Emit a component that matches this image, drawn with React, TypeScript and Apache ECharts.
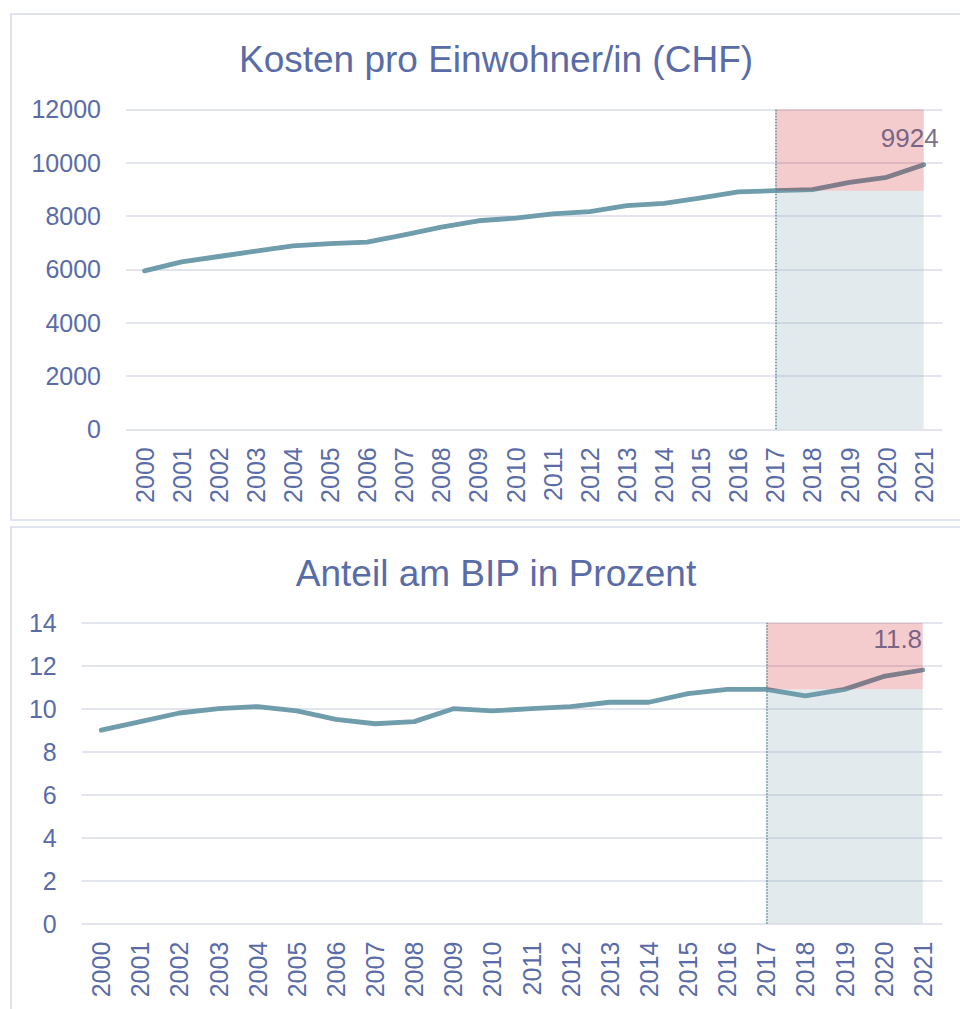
import React, { useEffect, useRef } from "react";
import * as echarts from "echarts";

const years = ["2000","2001","2002","2003","2004","2005","2006","2007","2008","2009","2010","2011","2012","2013","2014","2015","2016","2017","2018","2019","2020","2021"];
const costPerCapita = [5940, 6280, 6480, 6680, 6880, 6960, 7020, 7290, 7580, 7820, 7920, 8080, 8160, 8390, 8470, 8680, 8900, 8950, 8990, 9260, 9450, 9924];
const gdpShare = [9.0, 9.4, 9.8, 10.0, 10.1, 9.9, 9.5, 9.3, 9.4, 10.0, 9.9, 10.0, 10.1, 10.3, 10.3, 10.7, 10.9, 10.9, 10.6, 10.9, 11.5, 11.8];
const titles = ["Kosten pro Einwohner/in (CHF)", "Anteil am BIP in Prozent"];
const yMax = [12000, 14];
const yInterval = [2000, 2];
const shadeStartYear = "2017";
const shadeBase = [8950, 10.9];

const FONT = "'Liberation Sans', Arial, sans-serif";
const TEXT = "#5a6ca7";
const GRID_LINE = "#d9dde9";
const LINE = "#6f9dab";

function shadeSeries(idx: number, values: number[]) {
  const startIdx = years.indexOf(shadeStartYear);
  const base = years.map((_, i) => (i >= startIdx ? shadeBase[idx] : null));
  const top = years.map((_, i) => (i >= startIdx ? yMax[idx] - shadeBase[idx] : null));
  return [
    {
      type: "line",
      xAxisIndex: idx,
      yAxisIndex: idx,
      stack: "shade" + idx,
      data: base,
      symbol: "none",
      lineStyle: { opacity: 0, width: 0 },
      areaStyle: { color: "rgba(150,180,190,0.28)", opacity: 1 },
      z: 1,
      silent: true,
      markLine: {
        silent: true,
        symbol: "none",
        label: { show: false },
        lineStyle: { type: "dotted", color: "#5f8e9e", width: 1.5 },
        data: [{ xAxis: shadeStartYear }],
      },
    },
    {
      type: "line",
      xAxisIndex: idx,
      yAxisIndex: idx,
      stack: "shade" + idx,
      data: top,
      symbol: "none",
      lineStyle: { opacity: 0, width: 0 },
      areaStyle: { color: "rgba(200,0,10,0.2)", opacity: 1 },
      z: 4,
      silent: true,
    },
    {
      type: "line",
      xAxisIndex: idx,
      yAxisIndex: idx,
      data: values,
      symbol: "none",
      lineStyle: { color: LINE, width: 4.8, cap: "round", join: "round" },
      z: 2,
    },
    {
      type: "scatter",
      xAxisIndex: idx,
      yAxisIndex: idx,
      data: [[years[years.length - 1], values[values.length - 1]]],
      symbolSize: 0,
      z: 6,
      label: {
        show: true,
        position: "inside",
        offset: idx === 0 ? [-14, -27] : [-25, -31],
        formatter: (p: any) => String(p.value[1]),
        color: "#574870",
        fontSize: 26,
        fontFamily: FONT,
      },
    },
  ];
}

export default function App() {
  const ref = useRef<HTMLDivElement>(null);
  useEffect(() => {
    if (!ref.current) return;
    const chart = echarts.init(ref.current, null, { renderer: "svg" });
    const grids = [
      { left: 126, top: 109.3, width: 816.3, height: 320 },
      { left: 81.7, top: 622.7, width: 860.6, height: 301 },
    ];
    const xAxes = grids.map((_, i) => ({
      type: "category",
      gridIndex: i,
      data: years,
      boundaryGap: true,
      axisLine: { show: false },
      axisTick: { show: false },
      axisLabel: {
        rotate: 90,
        margin: 18,
        color: TEXT,
        fontSize: 25,
        fontFamily: FONT,
        interval: 0,
      },
    }));
    const yAxes = grids.map((_, i) => ({
      type: "value",
      gridIndex: i,
      min: 0,
      max: yMax[i],
      interval: yInterval[i],
      axisLine: { show: false },
      axisTick: { show: false },
      splitLine: { lineStyle: { color: GRID_LINE, width: 1.6 } },
      axisLabel: {
        margin: 25,
        color: TEXT,
        fontSize: 25,
        fontFamily: FONT,
        formatter: (v: number) => String(v),
      },
    }));
    chart.setOption({
      animation: false,
      backgroundColor: "#ffffff",
      title: [
        {
          text: titles[0],
          left: 491,
          top: 36,
          textAlign: "center",
          textStyle: { color: TEXT, fontSize: 37, fontWeight: "normal", fontFamily: FONT },
        },
        {
          text: titles[1],
          left: 491,
          top: 550,
          textAlign: "center",
          textStyle: { color: TEXT, fontSize: 37, fontWeight: "normal", fontFamily: FONT },
        },
      ],
      graphic: [
        {
          type: "rect",
          shape: { x: 11, y: 14, width: 990, height: 506 },
          style: { fill: "none", stroke: "#d8dcea", lineWidth: 1.6 },
          silent: true,
          z: -1,
        },
        {
          type: "rect",
          shape: { x: 11, y: 527, width: 990, height: 520 },
          style: { fill: "none", stroke: "#d8dcea", lineWidth: 1.6 },
          silent: true,
          z: -1,
        },
      ],
      grid: grids,
      xAxis: xAxes,
      yAxis: yAxes,
      series: [...shadeSeries(0, costPerCapita), ...shadeSeries(1, gdpShare)],
    });
    return () => chart.dispose();
  }, []);
  return (
    <div
      ref={ref}
      style={{ position: "absolute", left: 0, top: 0, width: 960, height: 1009 }}
    />
  );
}
